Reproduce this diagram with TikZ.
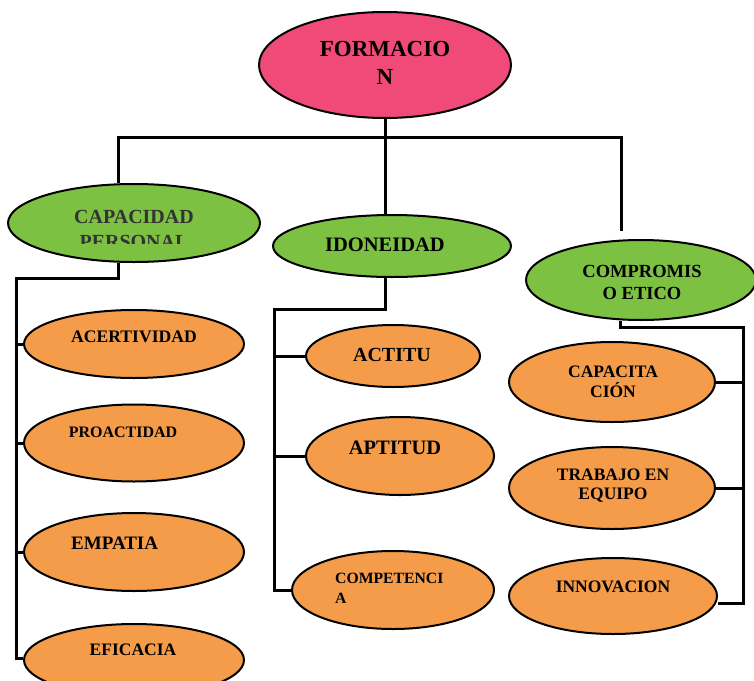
\documentclass[tikz,border=0pt]{standalone}
\usepackage{fontspec}
\setmainfont{Liberation Serif}
\usetikzlibrary{shapes.geometric}
\definecolor{pinkc}{HTML}{F04B78}
\definecolor{greenc}{HTML}{7CC142}
\definecolor{orangec}{HTML}{F49C4A}
\definecolor{darktxt}{HTML}{333333}
\newcommand{\fsz}[2]{\fontsize{#1}{#2}\selectfont\bfseries}
\tikzset{
  ov/.style={ellipse, draw=black, line width=2pt, inner sep=0pt},
  lvlzero/.style={ov, fill=pinkc},
  lvlone/.style={ov, fill=greenc},
  lvltwo/.style={ov, fill=orangec},
  conn/.style={line width=3pt, line join=miter},
  lbl/.style={inner sep=0pt, align=center},
}
\begin{document}
\begin{tikzpicture}[x=1pt,y=-1pt]
\useasboundingbox (0,0) rectangle (754,680);
% ellipses
\node[lvlzero, minimum width=252pt, minimum height=106pt] (form) at (385,65) {};
\node[lvlone, minimum width=252pt, minimum height=78pt] (cap) at (134,223) {};
\node[lvlone, minimum width=238pt, minimum height=62pt] (idon) at (392,246) {};
\node[lvlone, minimum width=230pt, minimum height=80pt] (compr) at (641,280) {};
\node[lvltwo, minimum width=220pt, minimum height=68pt] (acert) at (134,344) {};
\node[lvltwo, minimum width=220pt, minimum height=77pt] (proac) at (134,443) {};
\node[lvltwo, minimum width=220pt, minimum height=78pt] (empat) at (134,552) {};
\node[lvltwo, minimum width=220pt, minimum height=72pt] (efic) at (134,660) {};
\node[lvltwo, minimum width=174pt, minimum height=62pt] (actit) at (393,356) {};
\node[lvltwo, minimum width=188pt, minimum height=78pt] (aptit) at (400,456) {};
\node[lvltwo, minimum width=202pt, minimum height=78pt] (compe) at (393,590) {};
\node[lvltwo, minimum width=206pt, minimum height=80pt] (capac) at (612,382) {};
\node[lvltwo, minimum width=206pt, minimum height=82pt] (trab) at (612,488) {};
\node[lvltwo, minimum width=208pt, minimum height=76pt] (innov) at (613,596) {};
% connector corners
\coordinate (bL) at (118,137);
\coordinate (bR) at (621,137);
\coordinate (rEnd) at (621,231);
\coordinate (lA) at (118,278);
\coordinate (lB) at (16,278);
\coordinate (lC) at (16,658);
\coordinate (mA) at (385,309);
\coordinate (mB) at (274,309);
\coordinate (mC) at (274,590);
\coordinate (rA) at (620,327);
\coordinate (rB) at (743,327);
\coordinate (rC) at (743,603);
% connectors
\draw[conn] (form.south) -- (form.south |- idon.north);
\draw[conn] (bL |- cap.north) -- (bL) -- (bR) -- (rEnd);
\draw[conn] (lA |- cap.south) -- (lA) -- (lB) -- (lC) -- (efic.west |- lC);
\draw[conn] (lB |- acert.west) -- (acert.west);
\draw[conn] (lB |- proac.west) -- (proac.west);
\draw[conn] (lB |- empat.west) -- (empat.west);
\draw[conn] (mA |- idon.south) -- (mA) -- (mB) -- (mC) -- (compe.west);
\draw[conn] (mB |- actit.west) -- (actit.west);
\draw[conn] (mB |- aptit.west) -- (aptit.west);
\draw[conn] (rA |- compr.south) -- (rA) -- (rB) -- (rC) -- (innov.east |- rC);
\draw[conn] (capac.east) -- (rB |- capac.east);
\draw[conn] (trab.east) -- (rB |- trab.east);
% texts
\node[lbl, font=\fsz{23}{28}] (tform) at (385,63) {FORMACIO\\N};
\begin{scope}
\clip (0,0) rectangle (754,243);
\node[lbl, text=darktxt, font=\fsz{20}{25}] (tcap) at (134,229) {CAPACIDAD\\PERSONAL};
\end{scope}
\node[lbl, font=\fsz{20.5}{24}] (tidon) at (385,245) {IDONEIDAD};
\node[lbl, font=\fsz{18.5}{22}] (tcompr) at (642,282) {COMPROMIS\\O ETICO};
\node[lbl, font=\fsz{17.6}{20}] (tacert) at (134,337) {ACERTIVIDAD};
\node[lbl, font=\fsz{16}{19}] (tproac) at (123,432) {PROACTIDAD};
\node[lbl, anchor=west, font=\fsz{19}{22}] (tempat) at (71,543) {EMPATIA};
\node[lbl, font=\fsz{17.5}{20}] (tefic) at (133,650) {EFICACIA};
\node[lbl, font=\fsz{20}{24}] (tactit) at (392,355) {ACTITU};
\node[lbl, font=\fsz{20.5}{24}] (taptit) at (395,448) {APTITUD};
\node[lbl, anchor=west, align=left, font=\fsz{15.7}{20}] (tcompe) at (335,588) {COMPETENCI\\A};
\node[lbl, font=\fsz{17.5}{20}] (tcapac) at (613,382) {CAPACITA\\CIÓN};
\node[lbl, font=\fsz{17.5}{19}] (ttrab) at (613,486) {TRABAJO EN\\EQUIPO};
\node[lbl, font=\fsz{17.5}{20}] (tinnov) at (613,587) {INNOVACION};
\end{tikzpicture}
\end{document}
